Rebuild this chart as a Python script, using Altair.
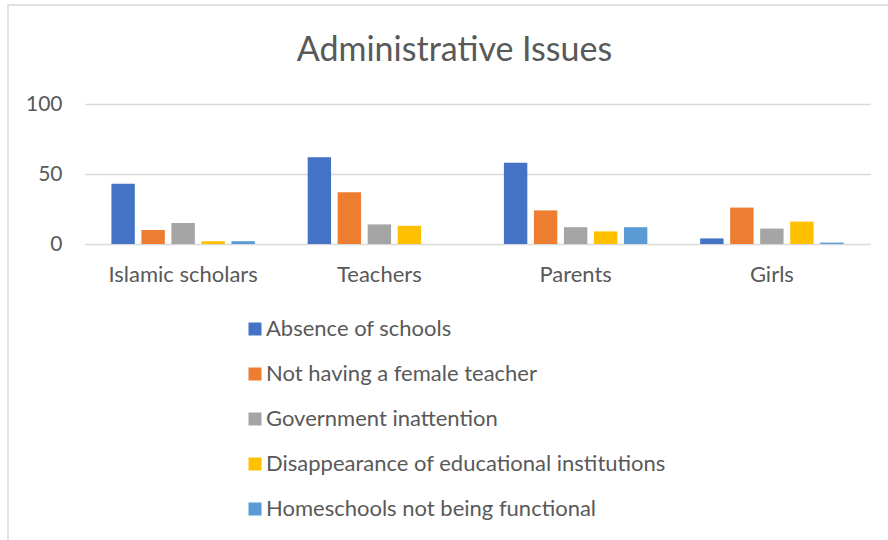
import altair as alt
import pandas as pd

categories = ["Islamic scholars", "Teachers", "Parents", "Girls"]
series = [
    "Absence of schools",
    "Not having a female teacher",
    "Government inattention",
    "Disappearance of educational institutions",
    "Homeschools not being functional",
]
values = {
    "Absence of schools": [43, 62, 58, 4],
    "Not having a female teacher": [10, 37, 24, 26],
    "Government inattention": [15, 14, 12, 11],
    "Disappearance of educational institutions": [2, 13, 9, 16],
    "Homeschools not being functional": [2, 0, 12, 1],
}
colors = ["#4472C4", "#ED7D31", "#A5A5A5", "#FFC000", "#5B9BD5"]
y_ticks = [0, 50, 100]

rows = []
for s in series:
    for c, v in zip(categories, values[s]):
        rows.append({"Group": c, "Issue": s, "Value": v})
df = pd.DataFrame(rows)

FONT = "Lato"
TXT = "#595959"

bars = alt.Chart(df).mark_bar().encode(
    x=alt.X("Group:N", sort=categories, title=None,
            scale=alt.Scale(paddingInner=0, paddingOuter=0),
            axis=alt.Axis(labelAngle=0, domain=False, ticks=False, labelPadding=20,
                          labelFontSize=22, labelColor=TXT, labelFont=FONT)),
    xOffset=alt.XOffset("Issue:N", sort=series,
                        scale=alt.Scale(paddingInner=0.22, paddingOuter=0.88)),
    y=alt.Y("Value:Q", title=None,
            scale=alt.Scale(domain=[0, 100]),
            axis=alt.Axis(values=y_ticks, domain=False, ticks=False, labelPadding=23,
                          labelFontSize=21, labelColor=TXT, labelFont=FONT,
                          gridColor="#d9d9d9", gridWidth=1.3)),
    color=alt.Color("Issue:N", sort=series, title=None,
                    scale=alt.Scale(domain=series, range=colors),
                    legend=alt.Legend(orient="none", legendX=159, legendY=214,
                                      direction="vertical", symbolType="square",
                                      symbolSize=169, symbolStrokeWidth=0,
                                      labelFontSize=22, labelColor=TXT, labelFont=FONT,
                                      labelOffset=0, rowPadding=23, labelLimit=600)),
)

border = alt.Chart(pd.DataFrame({"a": [0]})).mark_rect(
    fill=None, stroke="#d9d9d9", strokeWidth=1.5
).encode(
    x=alt.value(-77), x2=alt.value(900), y=alt.value(-99), y2=alt.value(500)
)

chart = alt.layer(border, bars).properties(
    width=785, height=140,
    title=alt.TitleParams("Administrative Issues", fontSize=34, font=FONT,
                          fontWeight="normal", color=TXT, anchor="middle",
                          baseline="alphabetic", dx=-23, dy=35, offset=-56),
    padding={"left": 85, "top": 104, "right": 18, "bottom": 296},
    autosize=alt.AutoSizeParams(type="none"),
).configure_view(stroke=None)

chart.save("out.html", embed_options={"renderer": "svg", "actions": False})
